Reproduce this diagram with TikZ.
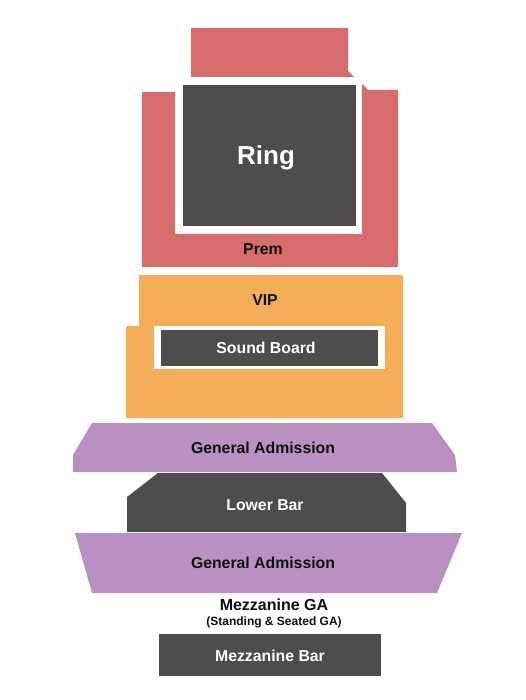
\documentclass[tikz,border=0pt]{standalone}
\usepackage{fontspec}
\setmainfont{Liberation Sans}
\usetikzlibrary{positioning}
\definecolor{prem}{RGB}{214,108,108}
\definecolor{vip}{RGB}{244,174,90}
\definecolor{gadmit}{RGB}{185,144,193}
\definecolor{darkbar}{RGB}{78,76,78}
\definecolor{textdark}{RGB}{15,15,15}
\tikzset{
  section/.style={fill=#1, draw=none},
  barblock/.style={fill=darkbar, draw=none},
  seclabel/.style={font=\bfseries\fontsize{15.8}{18}\selectfont, text=textdark, inner sep=0pt},
  barlabel/.style={font=\bfseries\fontsize{15.8}{18}\selectfont, text=white, inner sep=0pt},
  sublabel/.style={font=\bfseries\fontsize{12}{14}\selectfont, text=textdark, inner sep=0pt}
}
\begin{document}
\begin{tikzpicture}[x=1pt,y=-1pt]
  \useasboundingbox[fill=white] (0,0) rectangle (525,700);

  % premium seating round the ring
  \fill[section=prem] (191,28) -- (348,28) -- (348,71) -- (354,77) -- (191,77) -- cycle;
  \fill[section=prem] (142,92) -- (175,92) -- (175,234) -- (362,234) -- (362,84)
    -- (368,90) -- (398,90) -- (398,267) -- (142,267) -- cycle;
  \fill[barblock] (183,85) rectangle (356,226);
  \node[barlabel, font=\bfseries\fontsize{26}{30}\selectfont] (ring) at (266,158) {Ring};
  \node[seclabel] (premlabel) at (263,249) {Prem};

  % VIP floor with the sound board
  \fill[section=vip] (139,275) -- (403,275) -- (403,418) -- (126,418) -- (126,326)
    -- (139,326) -- cycle;
  \fill[white] (154,326) rectangle (385,369);
  \fill[barblock] (161,330) rectangle (378,366);
  \node[seclabel] (viplabel) at (265,300) {VIP};
  \node[barlabel] (soundboard) at (266,348) {Sound Board};

  % general admission and lower bar
  \fill[section=gadmit] (92,423) -- (432,423) -- (455,455) -- (457,472) -- (73,472)
    -- (73,455) -- cycle;
  \node[seclabel] (gaupper) at (263,448) {General Admission};
  \fill[barblock] (158,473) -- (382,473) -- (406,503) -- (406,532) -- (127,532)
    -- (127,497) -- cycle;
  \node[barlabel] (lowerbar) at (265,505) {Lower Bar};
  \fill[section=gadmit] (75,533) -- (462,533) -- (437,593) -- (92,593) -- cycle;
  \node[seclabel] (galower) at (263,563) {General Admission};

  % mezzanine
  \node[seclabel, font=\bfseries\fontsize{16}{18}\selectfont] (mezzga) at (274,605) {Mezzanine GA};
  \node[sublabel, below=6pt of mezzga] (mezzsub) {(Standing \& Seated GA)};
  \fill[barblock] (159,634) rectangle (381,676);
  \node[barlabel] (mezzbar) at (270,656) {Mezzanine Bar};
\end{tikzpicture}
\end{document}
